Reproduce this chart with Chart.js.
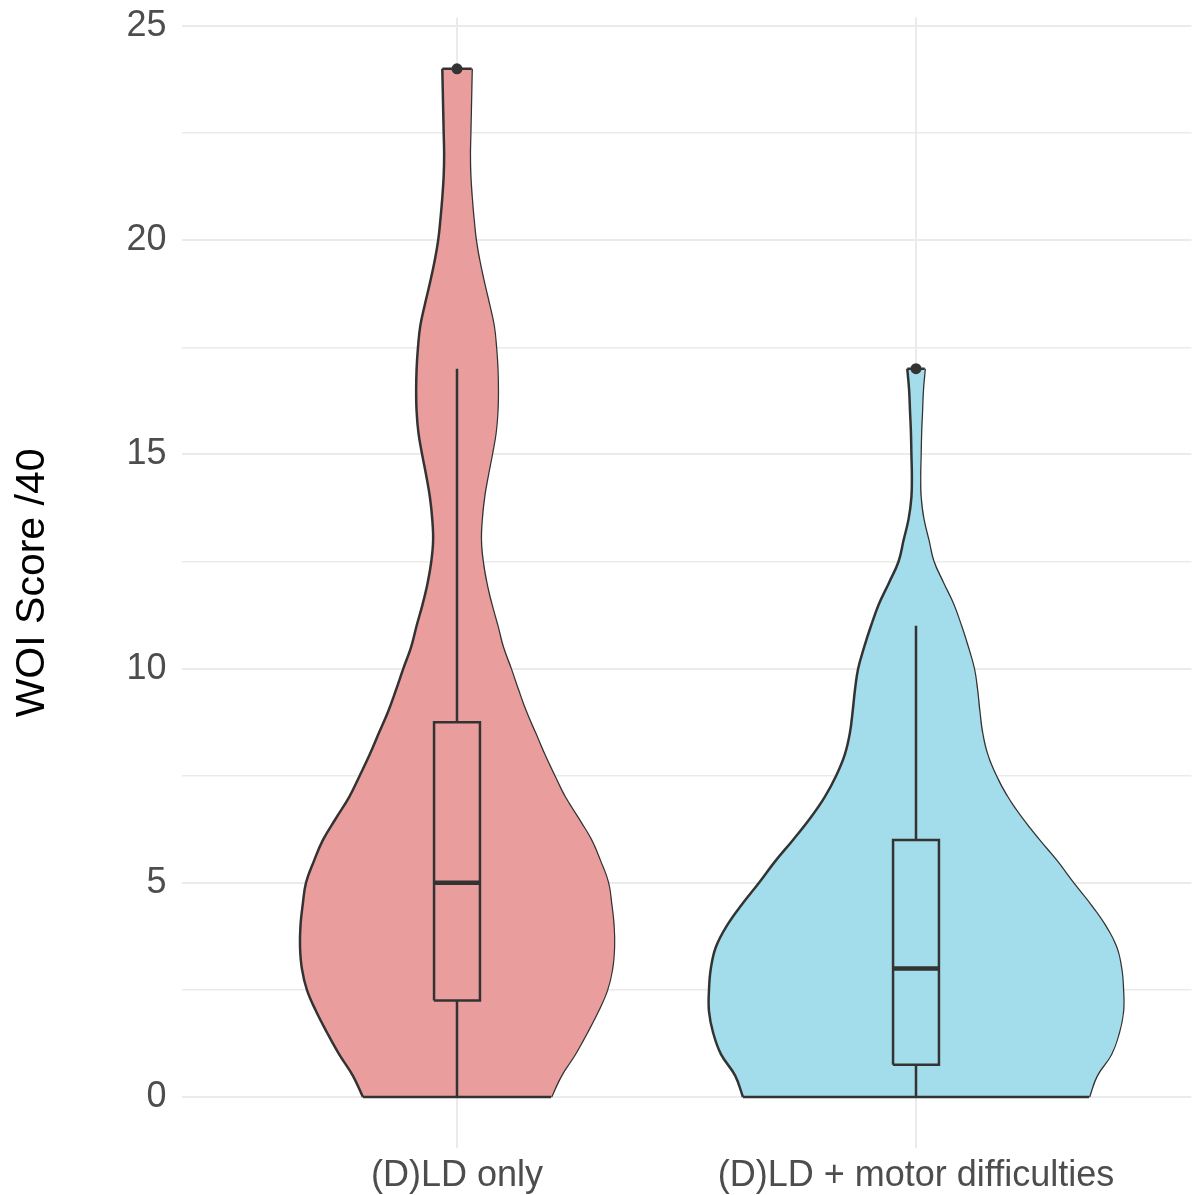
<!DOCTYPE html>
<html>
<head>
<meta charset="utf-8">
<script src="https://cdn.jsdelivr.net/npm/chart.js@4/dist/chart.umd.min.js"></script>
<style>
  html, body { margin: 0; padding: 0; background: #ffffff; }
  #wrap { width: 1192px; height: 1195px; position: relative; }
</style>
</head>
<body>
<div id="wrap"><canvas id="c" width="1192" height="1195"></canvas></div>
<script>
// ---------------- data ----------------
const categories = ['(D)LD only', '(D)LD + motor difficulties'];
const yTicks = [0, 5, 10, 15, 20, 25];

// violin outlines: score (y) and half-width in category units
const violin1Y = [0, 0.5, 1, 1.5, 2, 2.5, 3, 3.5, 4, 4.5, 5, 5.5, 6, 6.5, 7, 7.5, 8, 8.5, 9, 9.5, 10, 10.5, 11, 11.5, 12, 12.5, 13, 13.5, 14, 14.5, 15, 15.5, 16, 16.5, 17, 17.5, 18, 18.5, 19, 19.5, 20, 20.5, 21, 21.5, 22, 22.5, 23, 23.5, 24];
const violin1W = [0.205, 0.227, 0.257, 0.283, 0.307, 0.327, 0.338, 0.342, 0.341, 0.336, 0.329, 0.312, 0.292, 0.264, 0.235, 0.212, 0.190, 0.170, 0.150, 0.133, 0.117, 0.100, 0.088, 0.075, 0.064, 0.056, 0.052, 0.054, 0.059, 0.067, 0.076, 0.084, 0.088, 0.089, 0.088, 0.085, 0.080, 0.070, 0.059, 0.049, 0.041, 0.036, 0.032, 0.029, 0.028, 0.029, 0.030, 0.031, 0.032];

const violin2Y = [0, 0.5, 1, 1.5, 2, 2.5, 3, 3.5, 4, 4.5, 5, 5.5, 6, 6.5, 7, 7.5, 8, 8.5, 9, 9.5, 10, 10.5, 11, 11.5, 12, 12.5, 13, 13.5, 14, 14.5, 15, 15.5, 16, 16.5, 17];
const violin2W = [0.377, 0.394, 0.425, 0.442, 0.451, 0.451, 0.447, 0.436, 0.412, 0.379, 0.342, 0.307, 0.268, 0.231, 0.199, 0.174, 0.155, 0.144, 0.138, 0.133, 0.126, 0.113, 0.098, 0.081, 0.059, 0.038, 0.027, 0.016, 0.010, 0.009, 0.010, 0.011, 0.013, 0.015, 0.019];

const q1 = [2.25, 0.75];
const medians = [5, 3];
const q3 = [8.75, 6];
const whiskerLow = [0, 0];
const whiskerHigh = [17, 11];
const outliers = [[24], [17]];

// ---------------- styling ----------------
const fills = ['#E99E9D', '#A3DCEA'];
const stroke = '#333333';
const boxHalf = 0.05;
const LW = 2.5;

const violins = [[violin1Y, violin1W], [violin2Y, violin2W]];
const datasets = [];

violins.forEach(([ys, ws], g) => {
  const c = g + 1;
  const left = ys.map((y, i) => ({x: c - ws[i], y}));
  const right = ys.map((y, i) => ({x: c + ws[i], y}));
  const base = {pointRadius: 0, pointHoverRadius: 0, borderColor: stroke, borderWidth: LW, order: 10};
  const li = datasets.length;
  datasets.push(Object.assign({}, base, {data: left, fill: {target: li + 1}, backgroundColor: fills[g], tension: 0.4}));
  datasets.push(Object.assign({}, base, {data: right, fill: false, tension: 0.4}));
  const n = ys.length - 1;
  datasets.push(Object.assign({}, base, {data: [{x: c - ws[0], y: ys[0]}, {x: c + ws[0], y: ys[0]}], fill: false, order: 9}));
  datasets.push(Object.assign({}, base, {data: [{x: c - ws[n], y: ys[n]}, {x: c + ws[n], y: ys[n]}], fill: false, order: 9}));
});

for (let g = 0; g < 2; g++) {
  const c = g + 1;
  const b = {pointRadius: 0, pointHoverRadius: 0, borderColor: stroke, borderWidth: LW, fill: false, tension: 0, order: 5};
  // whiskers
  datasets.push(Object.assign({}, b, {data: [{x: c, y: q3[g]}, {x: c, y: whiskerHigh[g]}]}));
  datasets.push(Object.assign({}, b, {data: [{x: c, y: whiskerLow[g]}, {x: c, y: q1[g]}]}));
  // box
  datasets.push(Object.assign({}, b, {data: [
    {x: c - boxHalf, y: q1[g]}, {x: c - boxHalf, y: q3[g]},
    {x: c + boxHalf, y: q3[g]}, {x: c + boxHalf, y: q1[g]}, {x: c - boxHalf, y: q1[g]}
  ], borderJoinStyle: 'miter'}));
  // median
  datasets.push(Object.assign({}, b, {data: [{x: c - boxHalf, y: medians[g]}, {x: c + boxHalf, y: medians[g]}], borderWidth: 4.5, borderCapStyle: 'butt', order: 4}));
  // outliers
  datasets.push({data: outliers[g].map(v => ({x: c, y: v})), showLine: false, pointRadius: 5.5, pointHoverRadius: 5.5, pointBackgroundColor: stroke, pointBorderColor: stroke, pointBorderWidth: 0, order: 3});
}

const FONT = "'Liberation Sans', Arial, sans-serif";

new Chart(document.getElementById('c'), {
  type: 'line',
  data: {datasets},
  options: {
    indexAxis: 'y',
    responsive: false,
    animation: false,
    layout: {autoPadding: false, padding: {top: 17.4, right: 0.6, left: 0, bottom: 0}},
    plugins: {legend: {display: false}, tooltip: {enabled: false}},
    scales: {
      x: {
        type: 'linear', min: 0.4, max: 2.6,
        border: {display: false},
        afterBuildTicks: s => { s.ticks = categories.map((_, i) => ({value: i + 1})); },
        afterFit: s => { s.height = 46.6; s.paddingLeft = 0; s.paddingRight = 0; },
        grid: {color: '#EBEBEB', lineWidth: 2, drawTicks: false},
        ticks: {
          autoSkip: false, maxRotation: 0, padding: 6,
          color: '#4D4D4D', font: {family: FONT, size: 36},
          callback: v => categories[Math.round(v) - 1]
        }
      },
      y: {
        type: 'linear', min: -1.2, max: 25.2,
        border: {display: false},
        afterBuildTicks: s => {
          const t = [];
          for (let i = 0; i <= 10; i++) t.push({value: i * 2.5});
          s.ticks = t;
        },
        afterFit: s => { s.width = 181.6; s.paddingTop = 0; s.paddingBottom = 0; },
        grid: {
          drawTicks: false,
          color: '#EBEBEB',
          lineWidth: ctx => (ctx.tick && yTicks.includes(ctx.tick.value)) ? 2 : 1.4
        },
        ticks: {
          autoSkip: false, padding: 15,
          color: '#4D4D4D', font: {family: FONT, size: 36},
          callback: v => yTicks.includes(v) ? String(v) : ''
        },
        title: {
          display: true, text: 'WOI Score /40',
          color: '#000000', font: {family: FONT, size: 41},
          padding: {top: 8, bottom: 0}
        }
      }
    }
  }
});
</script>
</body>
</html>
